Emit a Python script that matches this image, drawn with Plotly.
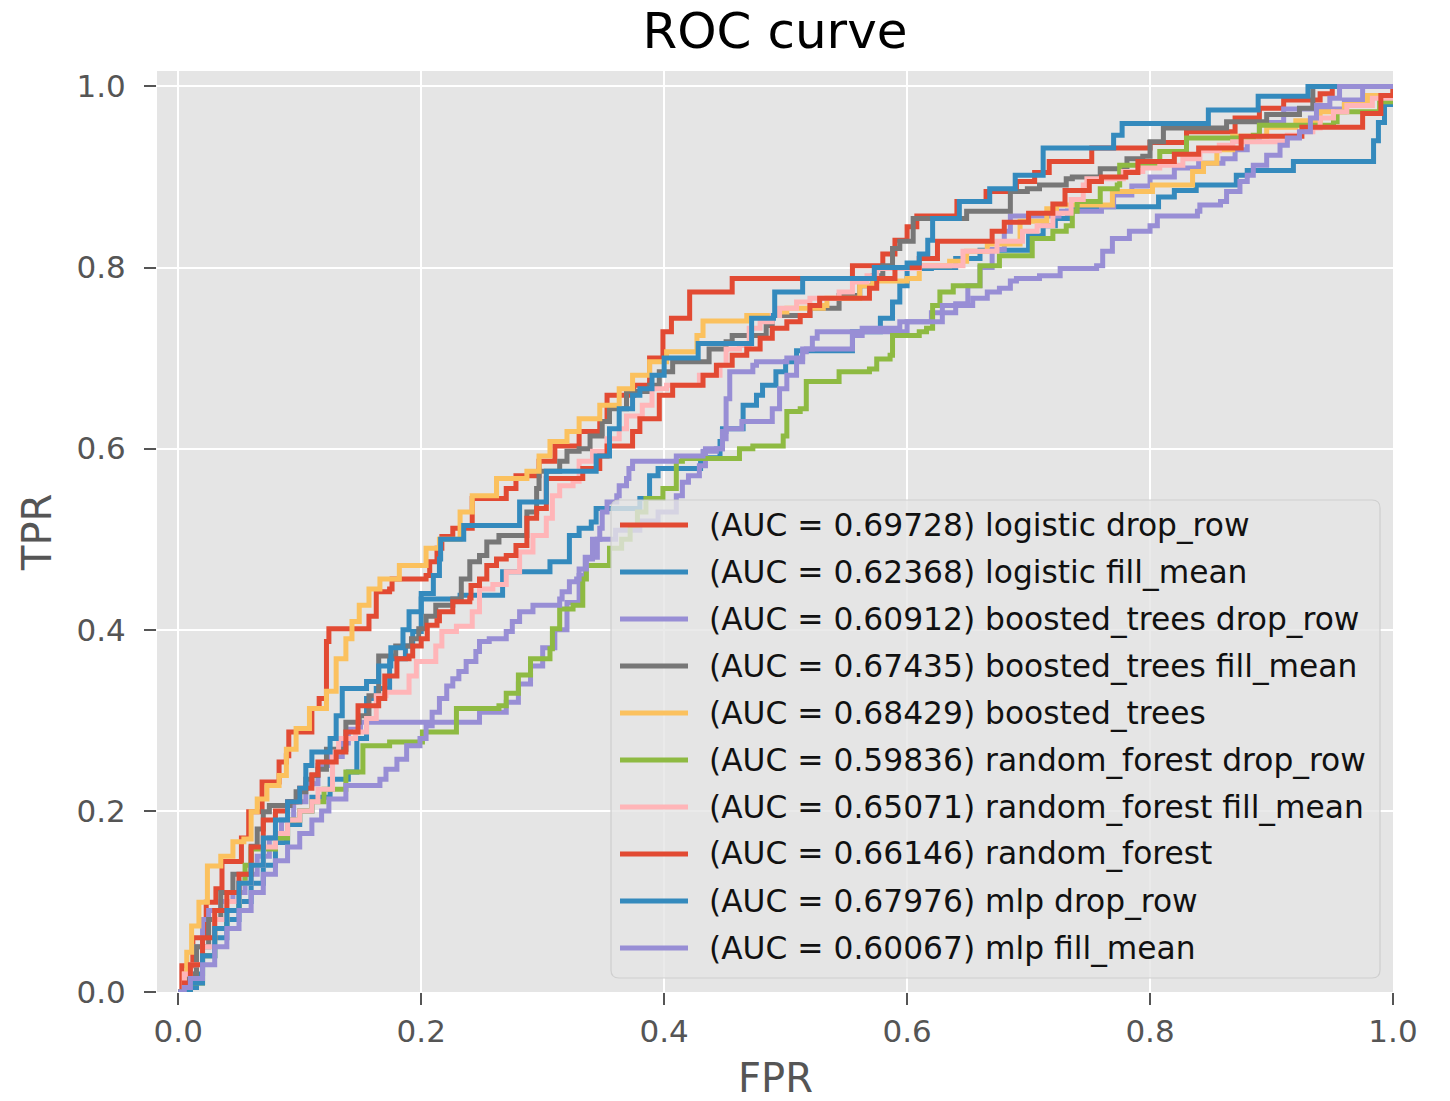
import plotly.graph_objects as go

# ---------------- data ----------------
names = [
    "(AUC = 0.69728) logistic drop_row",
    "(AUC = 0.62368) logistic fill_mean",
    "(AUC = 0.60912) boosted_trees drop_row",
    "(AUC = 0.67435) boosted_trees fill_mean",
    "(AUC = 0.68429) boosted_trees",
    "(AUC = 0.59836) random_forest drop_row",
    "(AUC = 0.65071) random_forest fill_mean",
    "(AUC = 0.66146) random_forest",
    "(AUC = 0.67976) mlp drop_row",
    "(AUC = 0.60067) mlp fill_mean",
]
colors = ["#E24A33", "#348ABD", "#988ED5", "#777777", "#FBC15E",
          "#8EBA42", "#FFB5B8", "#E24A33", "#348ABD", "#988ED5"]

fpr_lr_drop = [0, 0.003, 0.012, 0.023, 0.031, 0.036, 0.052, 0.058, 0.069, 0.083, 0.089, 0.091, 0.11, 0.116, 0.122, 0.124,
               0.157, 0.163, 0.174, 0.176, 0.204, 0.207, 0.213, 0.217, 0.226, 0.242, 0.27, 0.278, 0.297, 0.31, 0.33, 0.347,
               0.353, 0.375, 0.388, 0.399, 0.406, 0.421, 0.456, 0.555, 0.58, 0.59, 0.60, 0.608, 0.641, 0.665, 0.69, 0.705,
               0.717, 0.752, 0.80, 0.83, 0.87, 0.89, 0.91, 0.94, 0.95, 1.0]
tpr_lr_drop = [0, 0.029, 0.06, 0.099, 0.114, 0.144, 0.17, 0.199, 0.232, 0.254, 0.261, 0.287, 0.313, 0.324, 0.387, 0.401,
               0.415, 0.442, 0.445, 0.456, 0.46, 0.475, 0.49, 0.503, 0.512, 0.545, 0.556, 0.57, 0.586, 0.603, 0.619, 0.63,
               0.659, 0.67, 0.70, 0.729, 0.744, 0.773, 0.788, 0.802, 0.815, 0.83, 0.845, 0.857, 0.873, 0.884, 0.895, 0.905,
               0.917, 0.932, 0.938, 0.95, 0.965, 0.976, 0.985, 0.992, 1.0, 1.0]

fpr_lr_fill = [0, 0.01, 0.015, 0.02, 0.03, 0.04, 0.05, 0.06, 0.07, 0.08, 0.09, 0.10, 0.11, 0.125, 0.14, 0.147, 0.155,
               0.163, 0.174, 0.187, 0.193, 0.20, 0.232, 0.267, 0.306, 0.322, 0.33, 0.34, 0.344, 0.38, 0.388, 0.395, 0.43,
               0.446, 0.448, 0.465, 0.476, 0.481, 0.492, 0.50, 0.509, 0.555, 0.578, 0.588, 0.594, 0.60, 0.62, 0.64, 0.66,
               0.70, 0.712, 0.722, 0.732, 0.736, 0.807, 0.82, 0.838, 0.871, 0.88, 0.918, 0.984, 0.988, 0.993, 1.0]
tpr_lr_fill = [0, 0.005, 0.02, 0.04, 0.06, 0.08, 0.10, 0.12, 0.14, 0.165, 0.185, 0.20, 0.215, 0.235, 0.243, 0.28, 0.324,
               0.335, 0.368, 0.382, 0.398, 0.434, 0.438, 0.464, 0.475, 0.504, 0.512, 0.519, 0.534, 0.545, 0.57, 0.578, 0.59,
               0.608, 0.622, 0.648, 0.659, 0.67, 0.685, 0.696, 0.708, 0.729, 0.744, 0.762, 0.78, 0.799, 0.80, 0.81, 0.819,
               0.835, 0.846, 0.854, 0.862, 0.867, 0.878, 0.885, 0.891, 0.902, 0.907, 0.917, 0.94, 0.96, 0.98, 1.0]

fpr_bt_drop = [0, 0.008, 0.015, 0.02, 0.025, 0.035, 0.045, 0.055, 0.065, 0.075, 0.085, 0.095, 0.105, 0.115, 0.125, 0.135,
               0.14, 0.15, 0.248, 0.27, 0.28, 0.29, 0.30, 0.31, 0.32, 0.33, 0.335, 0.345, 0.36, 0.38, 0.395, 0.41, 0.415,
               0.42, 0.429, 0.434, 0.448, 0.451, 0.464, 0.489, 0.495, 0.501, 0.509, 0.514, 0.517, 0.555, 0.563, 0.60, 0.62,
               0.64, 0.65, 0.66, 0.67, 0.68, 0.685, 0.725, 0.76, 0.77, 0.785, 0.80, 0.82, 0.84, 0.86, 0.87, 0.88, 0.89,
               0.91, 0.96, 0.975, 1.0]
tpr_bt_drop = [0, 0.02, 0.05, 0.08, 0.09, 0.10, 0.11, 0.13, 0.15, 0.17, 0.19, 0.21, 0.23, 0.25, 0.26, 0.275,
               0.29, 0.298, 0.309, 0.32, 0.34, 0.36, 0.38, 0.40, 0.43, 0.46, 0.48, 0.50, 0.51, 0.52, 0.53, 0.548, 0.563,
               0.57, 0.581, 0.60, 0.611, 0.622, 0.63, 0.644, 0.666, 0.681, 0.696, 0.707, 0.71, 0.725, 0.729, 0.74, 0.75,
               0.76, 0.78, 0.80, 0.82, 0.84, 0.857, 0.862, 0.867, 0.88, 0.89, 0.90, 0.91, 0.915, 0.92, 0.93, 0.94, 0.96,
               0.975, 0.985, 1.0, 1.0]

fpr_bt_fill = [0, 0.008, 0.015, 0.025, 0.035, 0.045, 0.06, 0.065, 0.07, 0.075, 0.092, 0.097, 0.105, 0.11, 0.115, 0.122,
               0.138, 0.149, 0.157, 0.165, 0.179, 0.192, 0.198, 0.204, 0.212, 0.226, 0.233, 0.24, 0.248, 0.254, 0.264,
               0.287, 0.295, 0.297, 0.314, 0.32, 0.33, 0.339, 0.349, 0.355, 0.369, 0.388, 0.396, 0.407, 0.437, 0.451,
               0.456, 0.484, 0.489, 0.52, 0.544, 0.561, 0.572, 0.58, 0.588, 0.594, 0.605, 0.649, 0.685, 0.699, 0.709,
               0.731, 0.736, 0.759, 0.781, 0.794, 0.80, 0.811, 0.863, 0.896, 0.923, 0.934, 1.0]
tpr_bt_fill = [0, 0.02, 0.05, 0.08, 0.11, 0.13, 0.161, 0.18, 0.199, 0.206, 0.21, 0.221, 0.235, 0.239, 0.246, 0.268,
               0.298, 0.305, 0.327, 0.371, 0.382, 0.39, 0.401, 0.415, 0.427, 0.434, 0.456, 0.475, 0.482, 0.497, 0.504,
               0.53, 0.556, 0.575, 0.586, 0.597, 0.60, 0.614, 0.63, 0.644, 0.663, 0.67, 0.685, 0.696, 0.71, 0.718,
               0.725, 0.736, 0.747, 0.755, 0.769, 0.78, 0.791, 0.802, 0.821, 0.829, 0.854, 0.862, 0.884, 0.887, 0.891,
               0.898, 0.90, 0.909, 0.92, 0.923, 0.939, 0.954, 0.961, 0.969, 0.976, 1.0, 1.0]

fpr_bt = [0, 0.005, 0.007, 0.011, 0.017, 0.024, 0.035, 0.045, 0.054, 0.06, 0.065, 0.073, 0.083, 0.089, 0.097, 0.108,
          0.122, 0.13, 0.138, 0.143, 0.149, 0.157, 0.166, 0.182, 0.204, 0.215, 0.232, 0.242, 0.262, 0.287, 0.297, 0.306,
          0.32, 0.33, 0.347, 0.363, 0.374, 0.388, 0.402, 0.427, 0.432, 0.468, 0.493, 0.501, 0.531, 0.534, 0.561, 0.572,
          0.60, 0.61, 0.635, 0.649, 0.666, 0.693, 0.715, 0.723, 0.769, 0.802, 0.835, 0.844, 0.855, 0.868, 0.896, 0.92,
          0.94, 0.96, 0.979, 1.0]
tpr_bt = [0, 0.02, 0.044, 0.073, 0.099, 0.139, 0.15, 0.166, 0.169, 0.199, 0.213, 0.228, 0.239, 0.268, 0.291, 0.313,
          0.332, 0.368, 0.39, 0.409, 0.427, 0.445, 0.456, 0.471, 0.49, 0.50, 0.53, 0.548, 0.567, 0.575, 0.592, 0.608,
          0.619, 0.633, 0.648, 0.666, 0.681, 0.696, 0.707, 0.725, 0.741, 0.747, 0.751, 0.755, 0.758, 0.766, 0.78, 0.785,
          0.788, 0.802, 0.807, 0.818, 0.826, 0.851, 0.865, 0.869, 0.884, 0.891, 0.906, 0.915, 0.93, 0.945, 0.955, 0.962,
          0.972, 0.98, 0.99, 1.0]

fpr_rf_drop = [0, 0.01, 0.02, 0.03, 0.04, 0.05, 0.055, 0.06, 0.08, 0.09, 0.1, 0.11, 0.12, 0.138, 0.152, 0.174, 0.201,
               0.229, 0.264, 0.27, 0.28, 0.29, 0.306, 0.308, 0.314, 0.325, 0.333, 0.336, 0.355, 0.365, 0.372, 0.378,
               0.385, 0.399, 0.41, 0.415, 0.462, 0.473, 0.498, 0.501, 0.512, 0.517, 0.544, 0.569, 0.575, 0.586, 0.588,
               0.61, 0.616, 0.621, 0.627, 0.638, 0.66, 0.676, 0.703, 0.72, 0.731, 0.736, 0.74, 0.759, 0.773, 0.775,
               0.806, 0.808, 0.83, 0.885, 0.89, 0.951, 0.954, 0.989, 1.0]
tpr_rf_drop = [0, 0.01, 0.04, 0.07, 0.09, 0.12, 0.14, 0.158, 0.17, 0.19, 0.20, 0.21, 0.224, 0.243, 0.272, 0.276, 0.287,
               0.313, 0.316, 0.33, 0.35, 0.368, 0.379, 0.401, 0.423, 0.427, 0.456, 0.471, 0.49, 0.50, 0.515, 0.53,
               0.545, 0.556, 0.586, 0.589, 0.60, 0.603, 0.614, 0.641, 0.644, 0.674, 0.685, 0.688, 0.699, 0.703, 0.725,
               0.729, 0.733, 0.758, 0.773, 0.78, 0.802, 0.813, 0.832, 0.84, 0.846, 0.862, 0.873, 0.887, 0.891, 0.913,
               0.917, 0.928, 0.943, 0.946, 0.957, 0.961, 0.972, 0.983, 1.0]

fpr_rf_fill = [0, 0.005, 0.01, 0.02, 0.03, 0.04, 0.05, 0.06, 0.07, 0.08, 0.09, 0.1, 0.11, 0.115, 0.127, 0.132, 0.146,
               0.155, 0.163, 0.171, 0.19, 0.196, 0.212, 0.217, 0.229, 0.242, 0.248, 0.259, 0.27, 0.281, 0.292, 0.303,
               0.308, 0.314, 0.325, 0.33, 0.341, 0.353, 0.363, 0.369, 0.382, 0.39, 0.402, 0.429, 0.446, 0.451, 0.462,
               0.47, 0.479, 0.489, 0.495, 0.509, 0.52, 0.544, 0.555, 0.567, 0.575, 0.61, 0.646, 0.674, 0.695, 0.707,
               0.72, 0.735, 0.745, 0.748, 0.778, 0.794, 0.808, 0.827, 0.841, 0.857, 0.868, 0.913, 0.923, 0.934, 0.94,
               0.951, 0.962, 0.983, 1.0]
tpr_rf_fill = [0, 0.02, 0.03, 0.05, 0.08, 0.1, 0.12, 0.14, 0.16, 0.175, 0.19, 0.2, 0.21, 0.224, 0.265, 0.28, 0.287,
               0.302, 0.327, 0.331, 0.349, 0.365, 0.382, 0.398, 0.404, 0.42, 0.445, 0.45, 0.464, 0.486, 0.504, 0.523,
               0.548, 0.559, 0.564, 0.586, 0.597, 0.611, 0.622, 0.636, 0.648, 0.666, 0.67, 0.681, 0.692, 0.71, 0.714,
               0.733, 0.74, 0.747, 0.755, 0.762, 0.766, 0.773, 0.784, 0.791, 0.799, 0.802, 0.818, 0.829, 0.84, 0.846,
               0.86, 0.875, 0.891, 0.898, 0.906, 0.91, 0.913, 0.92, 0.929, 0.935, 0.939, 0.946, 0.95, 0.954, 0.965,
               0.972, 0.979, 0.987, 1.0]

fpr_rf = [0, 0.005, 0.01, 0.02, 0.03, 0.04, 0.05, 0.06, 0.07, 0.08, 0.09, 0.1, 0.11, 0.115, 0.13, 0.138, 0.148, 0.165,
          0.17, 0.18, 0.19, 0.193, 0.2, 0.205, 0.213, 0.215, 0.226, 0.24, 0.241, 0.248, 0.254, 0.262, 0.27, 0.278,
          0.287, 0.295, 0.303, 0.333, 0.347, 0.353, 0.374, 0.38, 0.396, 0.407, 0.432, 0.443, 0.456, 0.468, 0.479,
          0.489, 0.501, 0.512, 0.52, 0.528, 0.569, 0.575, 0.59, 0.61, 0.625, 0.67, 0.68, 0.70, 0.72, 0.73, 0.75,
          0.76, 0.78, 0.79, 0.82, 0.84, 0.875, 0.925, 0.975, 0.99, 1.0]
tpr_rf = [0, 0.01, 0.03, 0.06, 0.09, 0.11, 0.13, 0.16, 0.19, 0.2, 0.21, 0.225, 0.24, 0.254, 0.265, 0.287, 0.316, 0.324,
          0.349, 0.368, 0.371, 0.382, 0.39, 0.405, 0.41, 0.42, 0.431, 0.435, 0.449, 0.456, 0.471, 0.478, 0.482, 0.493,
          0.523, 0.534, 0.567, 0.578, 0.592, 0.603, 0.619, 0.633, 0.659, 0.67, 0.681, 0.692, 0.703, 0.71, 0.722,
          0.733, 0.74, 0.747, 0.758, 0.766, 0.777, 0.788, 0.80, 0.81, 0.829, 0.84, 0.85, 0.86, 0.87, 0.885, 0.895,
          0.90, 0.905, 0.917, 0.925, 0.932, 0.945, 0.955, 0.97, 0.99, 1.0]

fpr_mlp_drop = [0, 0.01, 0.02, 0.03, 0.04, 0.05, 0.06, 0.07, 0.08, 0.09, 0.10, 0.105, 0.11, 0.125, 0.13, 0.135, 0.155,
                0.165, 0.175, 0.185, 0.19, 0.20, 0.21, 0.215, 0.216, 0.235, 0.281, 0.303, 0.344, 0.355, 0.363, 0.374,
                0.38, 0.39, 0.40, 0.428, 0.472, 0.49, 0.491, 0.514, 0.573, 0.60, 0.61, 0.617, 0.621, 0.643, 0.668,
                0.689, 0.712, 0.77, 0.777, 0.848, 0.889, 0.93, 1.0]
tpr_mlp_drop = [0, 0.01, 0.04, 0.07, 0.09, 0.12, 0.14, 0.17, 0.19, 0.21, 0.225, 0.25, 0.265, 0.28, 0.305, 0.335, 0.343,
                0.36, 0.38, 0.40, 0.42, 0.44, 0.46, 0.478, 0.50, 0.515, 0.541, 0.575, 0.592, 0.622, 0.644, 0.659,
                0.666, 0.681, 0.70, 0.716, 0.744, 0.747, 0.773, 0.788, 0.80, 0.805, 0.815, 0.83, 0.854, 0.873, 0.887,
                0.902, 0.932, 0.946, 0.959, 0.974, 0.989, 1.0, 1.0]

fpr_mlp_fill = [0, 0.005, 0.01, 0.02, 0.03, 0.04, 0.05, 0.06, 0.07, 0.08, 0.09, 0.1, 0.11, 0.118, 0.124, 0.138, 0.166,
                0.171, 0.18, 0.188, 0.199, 0.204, 0.209, 0.215, 0.221, 0.226, 0.231, 0.237, 0.245, 0.248, 0.256, 0.27,
                0.275, 0.281, 0.292, 0.314, 0.316, 0.322, 0.328, 0.33, 0.336, 0.341, 0.347, 0.349, 0.353, 0.361, 0.363,
                0.369, 0.371, 0.374, 0.41, 0.432, 0.443, 0.448, 0.451, 0.454, 0.473, 0.476, 0.501, 0.514, 0.522, 0.526,
                0.563, 0.594, 0.629, 0.654, 0.666, 0.676, 0.685, 0.69, 0.709, 0.726, 0.756, 0.761, 0.769, 0.783, 0.80,
                0.806, 0.839, 0.841, 0.858, 0.863, 0.874, 0.88, 0.885, 0.896, 0.907, 0.913, 0.923, 0.932, 0.937, 0.948,
                0.956, 1.0]
tpr_mlp_fill = [0, 0.005, 0.015, 0.03, 0.05, 0.07, 0.09, 0.11, 0.13, 0.145, 0.16, 0.175, 0.19, 0.2, 0.213, 0.228, 0.235,
                0.246, 0.257, 0.272, 0.28, 0.294, 0.309, 0.324, 0.338, 0.346, 0.354, 0.365, 0.376, 0.387, 0.39, 0.398,
                0.409, 0.42, 0.427, 0.434, 0.442, 0.453, 0.456, 0.467, 0.478, 0.5, 0.512, 0.53, 0.541, 0.548, 0.559,
                0.567, 0.578, 0.586, 0.592, 0.597, 0.60, 0.619, 0.655, 0.685, 0.692, 0.696, 0.70, 0.71, 0.722, 0.729,
                0.733, 0.74, 0.758, 0.766, 0.773, 0.777, 0.785, 0.788, 0.791, 0.799, 0.802, 0.818, 0.832, 0.84, 0.846,
                0.857, 0.862, 0.869, 0.873, 0.884, 0.895, 0.902, 0.913, 0.924, 0.935, 0.943, 0.95, 0.965, 0.979, 0.987,
                1.0, 1.0]

fprs = [fpr_lr_drop, fpr_lr_fill, fpr_bt_drop, fpr_bt_fill, fpr_bt, fpr_rf_drop, fpr_rf_fill, fpr_rf, fpr_mlp_drop, fpr_mlp_fill]
tprs = [tpr_lr_drop, tpr_lr_fill, tpr_bt_drop, tpr_bt_fill, tpr_bt, tpr_rf_drop, tpr_rf_fill, tpr_rf, tpr_mlp_drop, tpr_mlp_fill]

tick_vals = [0.0, 0.2, 0.4, 0.6, 0.8, 1.0]
tick_text = ["0.0", "0.2", "0.4", "0.6", "0.8", "1.0"]

# ---------------- figure ----------------
W, H = 1450, 1101
ML, MR, MT, MB = 157, 57, 71, 109
FONT = "DejaVu Sans"
LW = 5.0

fig = go.Figure()
for name, c, fx, ty in zip(names, colors, fprs, tprs):
    fig.add_trace(go.Scatter(x=fx, y=ty, mode="lines", name=name,
                             line=dict(color=c, width=LW, shape="hv"),
                             showlegend=False, hoverinfo="skip"))

pw, ph = W - ML - MR, H - MT - MB
def px2paper_x(px):
    return (px - ML) / pw
def px2paper_y(py):
    return (H - MB - py) / ph

# legend drawn by hand (matplotlib style: long line samples, rounded frame)
lx0, lx1, ly0, ly1 = 611, 1380, 500, 978
rad = 8
bx0, bx1 = px2paper_x(lx0), px2paper_x(lx1)
by_top, by_bot = px2paper_y(ly0), px2paper_y(ly1)
rx, ry = rad / pw, rad / ph
frame_path = (f"M{bx0 + rx},{by_top} L{bx1 - rx},{by_top} Q{bx1},{by_top} {bx1},{by_top - ry} "
              f"L{bx1},{by_bot + ry} Q{bx1},{by_bot} {bx1 - rx},{by_bot} L{bx0 + rx},{by_bot} "
              f"Q{bx0},{by_bot} {bx0},{by_bot + ry} L{bx0},{by_top - ry} Q{bx0},{by_top} {bx0 + rx},{by_top} Z")
shapes = [dict(type="path", xref="paper", yref="paper", path=frame_path,
               fillcolor="rgba(229,229,229,0.8)", line=dict(color="rgba(204,204,204,0.9)", width=1.2),
               layer="above")]
annotations = []
first_row, row_gap = 525, 47.0
for i, (name, c) in enumerate(zip(names, colors)):
    yy = px2paper_y(first_row + i * row_gap)
    shapes.append(dict(type="line", xref="paper", yref="paper",
                       x0=px2paper_x(620), x1=px2paper_x(688), y0=yy, y1=yy,
                       line=dict(color=c, width=LW), layer="above"))
    annotations.append(dict(text=name, xref="paper", yref="paper", x=px2paper_x(707), y=yy,
                            xanchor="left", yanchor="middle", showarrow=False,
                            font=dict(family=FONT, size=31.3, color="#111111")))

# axis titles
annotations.append(dict(text="FPR", xref="paper", yref="paper", x=0.5, y=px2paper_y(1078),
                        xanchor="center", yanchor="middle", showarrow=False,
                        font=dict(family=FONT, size=40, color="#555555")))
annotations.append(dict(text="TPR", xref="paper", yref="paper", x=px2paper_x(37), y=px2paper_y(533),
                        xanchor="center", yanchor="middle", showarrow=False, textangle=-90,
                        font=dict(family=FONT, size=40, color="#555555")))

axis_common = dict(
    showgrid=True, gridcolor="white", gridwidth=2, zeroline=False, showline=False,
    ticks="outside", ticklen=12, tickwidth=2, tickcolor="#555555",
    tickvals=tick_vals, ticktext=tick_text, automargin=False,
    tickfont=dict(family=FONT, size=31, color="#555555"),
)

fig.update_layout(
    width=W, height=H, autosize=False,
    margin=dict(l=ML, r=MR, t=MT, b=MB, pad=0, autoexpand=False),
    paper_bgcolor="white", plot_bgcolor="#E5E5E5",
    title=dict(text="ROC curve", x=0.5, xref="paper", xanchor="center",
               y=1 - 30 / H, yref="container", yanchor="middle", automargin=False,
               font=dict(family=FONT, size=50, color="#000000")),
    xaxis=dict(range=[-0.0175, 1.0], **axis_common),
    yaxis=dict(range=[0.0, 1.017], ticklabelstandoff=12, **axis_common),
    shapes=shapes, annotations=annotations, showlegend=False,
)

fig.write_html("out.html")
